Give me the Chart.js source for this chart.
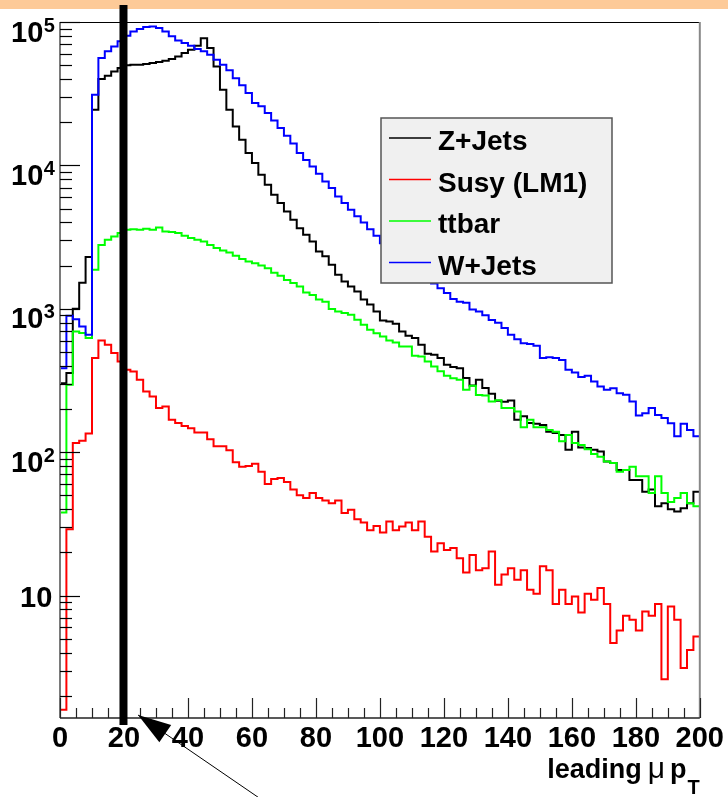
<!DOCTYPE html>
<html>
<head>
<meta charset="utf-8">
<script src="https://cdn.jsdelivr.net/npm/chart.js@4.4.1/dist/chart.umd.min.js"></script>
<style>
  html, body { margin: 0; padding: 0; background: #fff; }
</style>
</head>
<body>
<canvas id="chart" width="728" height="797"></canvas>
<script>
// 100 bins of 2 GeV, leading muon pT from 0 to 200
const binWidth = 2;
const xTickLabels = [0, 20, 40, 60, 80, 100, 120, 140, 160, 180, 200];
const yTickValues = [10, 100, 1000, 10000, 100000];
const seriesNames = ['Z+Jets', 'Susy (LM1)', 'ttbar', 'W+Jets'];
const seriesColors = ['#000000', '#ff0000', '#00ff00', '#0000ff'];

// bin contents
const zJets = [303, 357, 1000, 1520, 2300, 24400, 40000, 42200, 45200, 47800,
  50000, 50300, 50300, 50900, 51800, 52600, 53700, 55200, 57500, 60800,
  64100, 68400, 77000, 66000, 49000, 33700, 24400, 18700, 15100, 12200,
  10400, 8600, 7330, 6240, 5460, 4770, 4180, 3650, 3280, 2950,
  2510, 2320, 2030, 1730, 1550, 1430, 1320, 1160, 1070, 958,
  828, 815, 785, 695, 648, 625, 561, 486, 478, 453,
  407, 392, 385, 329, 292, 320, 280, 256, 228, 225,
  229, 168, 178, 160, 158, 155, 139, 136, 132, 104,
  139, 108, 107, 104, 101, 86, 84, 75, 75, 64,
  64, 53, 55, 42, 44, 40, 38.6, 40.7, 44, 53];

const susyLM1 = [1.6, 29, 116, 120, 135, 453, 601, 561, 491, 429,
  375, 365, 320, 265, 244, 203, 208, 168, 160, 152,
  147, 137, 137, 123, 110, 110, 103, 85, 79, 80,
  83, 73, 60, 65, 66, 62, 55, 50, 48, 52,
  48, 46, 44, 46, 37.6, 39.6, 34, 32.3, 28.5, 30.6,
  27.5, 32.8, 28.5, 30.3, 32.3, 28.5, 32.8, 25.7, 20.3, 23.2,
  20.8, 21.5, 18.2, 14.5, 19.2, 15, 15.5, 20.3, 11.9, 14,
  15.5, 12.9, 15, 11, 10.3, 16, 15, 8.75, 11, 8.75,
  9.86, 7.62, 10.3, 9.34, 11.3, 8.75, 4.66, 5.7, 7.22, 6.78,
  5.7, 7.74, 7.22, 8.75, 2.61, 8.39, 6.78, 3.12, 4.18, 5.18];

const ttbar = [38, 295, 695, 677, 625, 1870, 2790, 3030, 3190, 3370,
  3560, 3590, 3560, 3610, 3560, 3690, 3460, 3430, 3370, 3230,
  3110, 3030, 2950, 2790, 2650, 2550, 2470, 2340, 2220, 2140,
  2080, 2000, 1920, 1780, 1700, 1590, 1510, 1430, 1300, 1250,
  1160, 1120, 995, 958, 933, 908, 838, 773, 713, 676,
  641, 601, 582, 546, 546, 470, 465, 429, 396, 366,
  341, 328, 320, 272, 290, 250, 248, 226, 230, 203,
  203, 192, 149, 168, 149, 149, 143, 139, 119, 132,
  116, 112, 105, 97, 93, 86, 84, 73, 75, 79,
  68, 68, 52, 68, 52, 45, 48, 52, 44, 42];

const wJets = [385, 893, 845, 753, 659, 31100, 56100, 62400, 67600, 73300,
  80200, 85900, 89300, 92200, 93200, 90800, 85900, 79400, 74400, 71300,
  68400, 64900, 62400, 59200, 54600, 50300, 46000, 40600, 36200, 32000,
  27200, 25800, 23200, 20600, 18200, 16100, 14200, 12200, 10900, 9840,
  8740, 7730, 6950, 6070, 5460, 4900, 4410, 4000, 3590, 3230,
  2870, 2640, 2460, 2230, 2090, 1910, 1790, 1620, 1500, 1390,
  1290, 1170, 1120, 1100, 990, 958, 900, 835, 800, 733,
  659, 614, 576, 567, 552, 453, 460, 453, 440, 375,
  360, 334, 341, 311, 287, 272, 279, 258, 251, 226,
  180, 187, 203, 182, 173, 159, 129, 158, 143, 129];

const allSeries = [zJets, susyLM1, ttbar, wJets];

const fontFamily = "'Liberation Sans', Arial, Helvetica, sans-serif";

// histogram outline: one point per lower bin edge plus the upper edge of the last bin
function toSteps(vals) {
  const pts = vals.map((v, i) => ({ x: i * binWidth, y: v }));
  pts.push({ x: vals.length * binWidth, y: vals[vals.length - 1] });
  return pts;
}

function line(c, x1, y1, x2, y2) {
  c.beginPath();
  c.moveTo(x1, y1);
  c.lineTo(x2, y2);
  c.stroke();
}

// ROOT-like frame, inward ticks, legend, axis titles and the cut marker
const rootStyle = {
  id: 'rootStyle',
  beforeDraw(chart) {
    const c = chart.ctx;
    c.save();
    c.fillStyle = '#ffffff';
    c.fillRect(0, 0, chart.width, chart.height);
    c.fillStyle = '#fdca98';
    c.fillRect(0, 0, chart.width, 9);
    c.restore();
  },
  afterDraw(chart) {
    const c = chart.ctx;
    const a = chart.chartArea;
    const xs = chart.scales.x;
    const ys = chart.scales.y;
    c.save();

    // frame
    c.lineWidth = 1;
    c.strokeStyle = '#000';
    line(c, a.left, a.top + 0.5, a.right, a.top + 0.5);
    c.strokeStyle = '#888';
    c.lineWidth = 2;
    line(c, a.right, a.top, a.right, a.bottom);
    c.strokeStyle = '#7a7a7a';
    line(c, a.left, a.top, a.left, a.bottom);
    c.strokeStyle = '#222';
    c.lineWidth = 1.5;
    line(c, a.left, a.bottom, a.right, a.bottom);

    // y ticks (log decades with 2..9 subdivisions)
    c.strokeStyle = '#000';
    c.lineWidth = 1.2;
    for (let e = 0; e <= 5; e++) {
      for (let m = 1; m <= 9; m++) {
        const v = m * Math.pow(10, e);
        if (v < ys.min || v > ys.max) continue;
        const py = Math.round(ys.getPixelForValue(v)) + 0.5;
        line(c, a.left, py, a.left + (m === 1 ? 20 : 12), py);
      }
    }
    // x ticks every 5, long ones on the labelled values
    c.strokeStyle = '#222';
    for (let v = 0; v <= 200; v += 5) {
      const px = Math.round(xs.getPixelForValue(v)) + 0.5;
      line(c, px, a.bottom, px, a.bottom - (v % 20 === 0 ? 20 : 10));
    }

    // y labels as 10 with a raised exponent
    c.fillStyle = '#000';
    c.textAlign = 'left';
    c.textBaseline = 'alphabetic';
    yTickValues.forEach(v => {
      const py = ys.getPixelForValue(v);
      const e = Math.round(Math.log10(v));
      c.font = 'bold 29px ' + fontFamily;
      if (e === 1) {
        c.fillText('10', 20, py + 11);
      } else {
        c.fillText('10', 11, py + 19.5);
        const w = c.measureText('10').width;
        c.font = 'bold 20px ' + fontFamily;
        c.fillText(String(e), 11 + w + 0.5, py + 9.5);
      }
    });

    // legend box
    const lx = 381, ly = 118, lw = 231, lh = 165;
    c.fillStyle = '#f0f0f0';
    c.fillRect(lx, ly, lw, lh);
    c.strokeStyle = '#555';
    c.lineWidth = 1.5;
    c.strokeRect(lx, ly, lw, lh);
    c.font = 'bold 28px ' + fontFamily;
    seriesNames.forEach((name, i) => {
      const ry = 138 + i * 41.5;
      c.strokeStyle = seriesColors[i];
      c.lineWidth = 1.5;
      line(c, 389, ry, 431, ry);
      c.fillStyle = '#000';
      c.fillText(name, 438, ry + 12);
    });

    // axis title: leading mu p_T, right aligned to the frame
    c.fillStyle = '#000';
    c.textAlign = 'right';
    let right = a.right;
    c.font = 'bold 20px ' + fontFamily;
    c.fillText('T', right, 794);
    right -= c.measureText('T').width + 1;
    c.font = 'bold 27px ' + fontFamily;
    c.fillText('p', right, 778);
    right -= c.measureText('p').width + 5;
    c.font = '30px ' + fontFamily;
    c.fillText('\u03bc', right, 778);
    right -= c.measureText('\u03bc').width + 6;
    c.font = 'bold 27px ' + fontFamily;
    c.fillText('leading', right, 778);

    // cut at 20 GeV
    c.strokeStyle = '#000';
    c.lineWidth = 8;
    const cx = xs.getPixelForValue(20) - 0.5;
    line(c, cx, 5, cx, 725);

    // arrow pointing at the axis
    const tipX = xs.getPixelForValue(24.4);
    const tipY = a.bottom - 3;
    const dl = Math.hypot(1, 0.685);
    const dx = 1 / dl, dy = 0.685 / dl;
    c.lineWidth = 1;
    line(c, tipX, tipY, tipX + dx * 190, tipY + dy * 190);
    const bx = tipX + dx * 33, by = tipY + dy * 33;
    c.fillStyle = '#000';
    c.beginPath();
    c.moveTo(tipX, tipY);
    c.lineTo(bx - dy * 10.5, by + dx * 10.5);
    c.lineTo(bx + dy * 10.5, by - dx * 10.5);
    c.closePath();
    c.fill();

    c.restore();
  }
};

new Chart(document.getElementById('chart'), {
  type: 'line',
  data: {
    datasets: allSeries.map((vals, i) => ({
      label: seriesNames[i],
      data: toSteps(vals),
      borderColor: seriesColors[i],
      borderWidth: 2,
      pointRadius: 0,
      stepped: 'before',
      fill: false,
      order: allSeries.length - i
    }))
  },
  options: {
    responsive: false,
    animation: false,
    layout: { padding: { top: 22, right: 28, left: 0, bottom: 0 } },
    plugins: {
      legend: { display: false },
      tooltip: { enabled: false }
    },
    scales: {
      x: {
        type: 'linear',
        min: 0,
        max: 200,
        grid: { display: false, drawTicks: false },
        border: { display: false },
        afterBuildTicks: s => { s.ticks = xTickLabels.map(v => ({ value: v })); },
        afterFit: s => { s.height = 79; },
        ticks: {
          autoSkip: false,
          maxRotation: 0,
          padding: 4,
          color: '#000',
          font: { family: fontFamily, size: 29, weight: 'bold' }
        }
      },
      y: {
        type: 'logarithmic',
        min: 1.4,
        max: 100000,
        grid: { display: false, drawTicks: false },
        border: { display: false },
        afterBuildTicks: s => { s.ticks = yTickValues.map(v => ({ value: v, major: true })); },
        afterFit: s => { s.width = 60; },
        ticks: { display: false }
      }
    }
  },
  plugins: [rootStyle]
});
</script>
</body>
</html>
